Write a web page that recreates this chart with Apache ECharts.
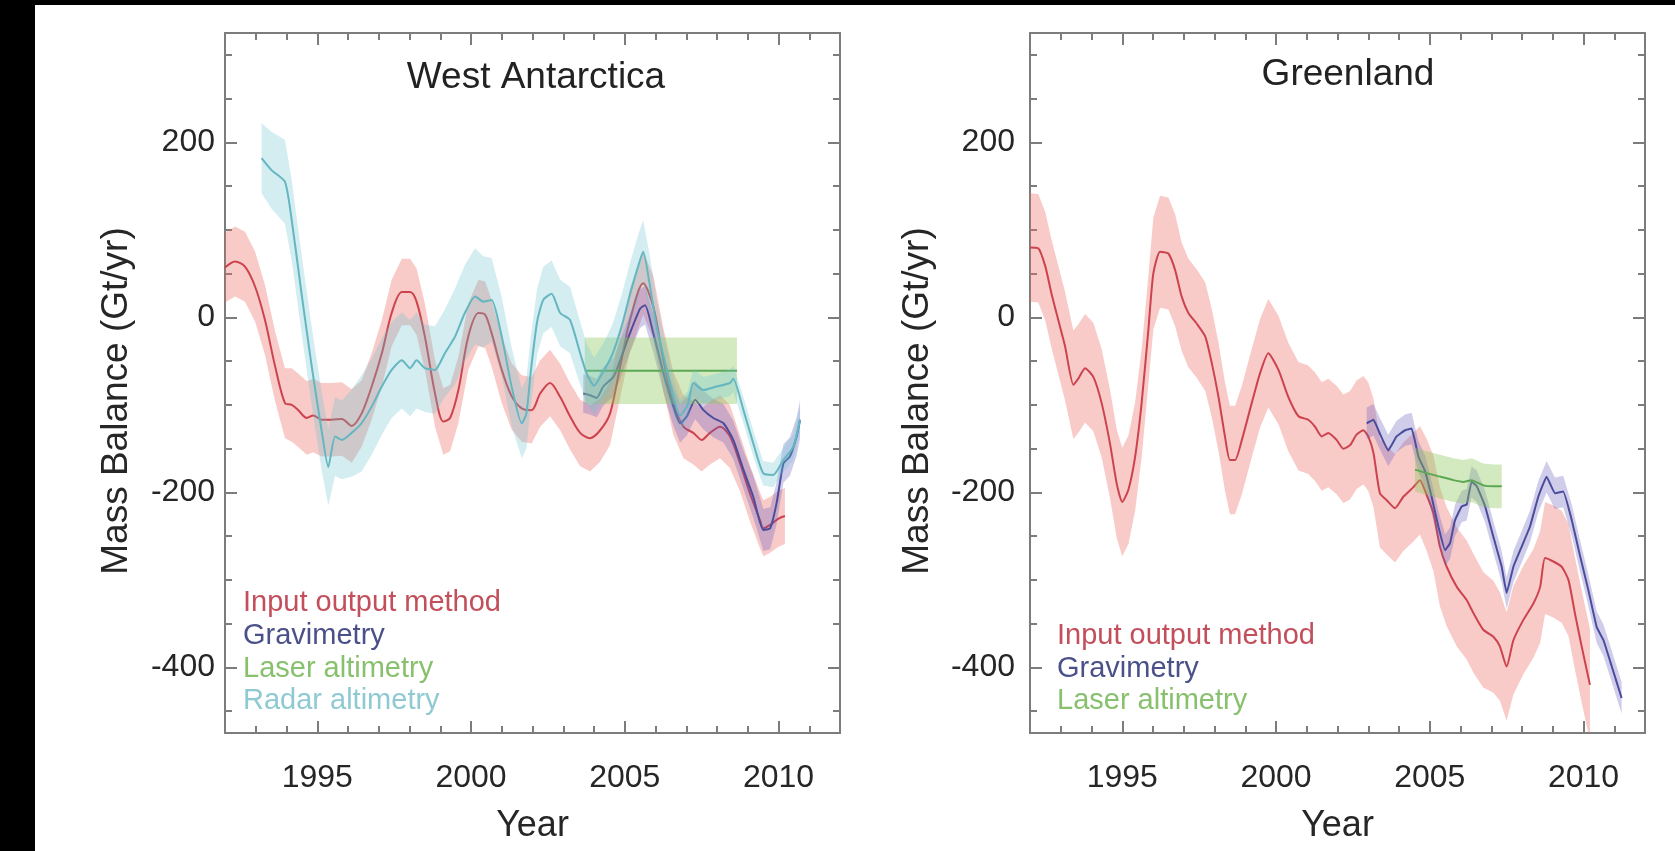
<!DOCTYPE html>
<html>
<head>
<meta charset="utf-8">
<script src="https://cdn.jsdelivr.net/npm/echarts@6.0.0/dist/echarts.min.js"></script>
<style>
html,body{margin:0;padding:0;background:#000;width:1675px;height:851px;overflow:hidden}
#c{position:absolute;left:35px;top:5px;width:1640px;height:846px;background:#fff}
</style>
</head>
<body>
<div id="c"></div>
<script>
// ---------- tick labels ----------
const yearLabels = [1995, 2000, 2005, 2010];
const yearMinorTicks = [1993,1994,1995,1996,1997,1998,1999,2000,2001,2002,2003,2004,2005,2006,2007,2008,2009,2010,2011];
const massLabels = [-400, -200, 0, 200];
const massMinorTicks = [-450,-400,-350,-300,-250,-200,-150,-100,-50,0,50,100,150,200,250,300];

// ---------- West Antarctica: [year, value, uncertainty] ----------
const waInputOutput = [
 [1992.0,57,40],[1992.33,64,40],[1992.65,58,40],[1992.98,35,40],[1993.3,-3,40],[1993.63,-56,40],[1993.95,-98,40],
 [1994.17,-100,42],[1994.38,-106,42],[1994.66,-115,42],[1994.87,-112,42],[1995.14,-117,42],[1995.47,-117,42],[1995.8,-116,42],[1996.12,-124,42],
 [1996.44,-110,38],[1996.77,-79,38],[1997.1,-41,38],[1997.42,5,38],[1997.75,29,38],[1998.02,29,38],[1998.23,18,38],[1998.5,-22,38],
 [1998.83,-87,38],[1999.1,-119,38],[1999.32,-115,38],[1999.59,-83,38],[1999.91,-22,38],[2000.24,5,38],[2000.46,3,38],[2000.67,-18,38],
 [2001.0,-60,38],[2001.32,-90,38],[2001.65,-104,38],[2001.97,-106,38],[2002.25,-87,38],[2002.57,-75,38],[2002.9,-91,38],[2003.22,-113,38],
 [2003.55,-132,38],[2003.87,-138,38],[2004.2,-129,36],[2004.52,-110,36],[2004.85,-56,36],[2005.17,-3,36],[2005.6,39,36],[2005.93,12,36],
 [2006.26,-49,36],[2006.58,-98,36],[2006.91,-125,36],[2007.23,-132,36],[2007.5,-140,36],[2007.77,-132,36],[2008.1,-125,36],[2008.42,-136,36],
 [2008.75,-167,32],[2009.07,-201,32],[2009.4,-232,32],[2009.51,-241,32],[2009.73,-237,32],[2010.0,-230,32],[2010.21,-227,32]
];
const waGravimetry = [
 [2003.65,-87,22],[2003.87,-89,22],[2004.09,-92,22],[2004.3,-79,22],[2004.63,-68,22],[2004.85,-49,22],[2005.17,-18,22],[2005.5,10,22],
 [2005.66,14,22],[2005.93,-18,22],[2006.26,-64,22],[2006.58,-102,22],[2006.8,-121,22],[2007.02,-113,22],[2007.29,-94,22],[2007.56,-106,22],
 [2007.88,-115,22],[2008.21,-121,22],[2008.53,-140,22],[2008.86,-174,22],[2009.18,-205,24],[2009.51,-243,24],[2009.73,-241,24],[2009.94,-212,24],
 [2010.16,-167,22],[2010.37,-159,22],[2010.59,-136,22],[2010.7,-117,22]
];
const waLaser = [[2003.7,-61,38],[2008.65,-61,38]];
const waRadar = [
 [1993.19,182,40],[1993.52,168,44],[1993.95,155,48],[1994.17,111,46],[1994.49,27,45],[1994.82,-56,45],[1995.14,-129,45],[1995.36,-171,44],
 [1995.58,-136,45],[1995.8,-140,45],[1996.12,-132,50],[1996.44,-121,55],[1996.77,-102,55],[1997.1,-79,55],[1997.42,-60,55],[1997.75,-49,55],
 [1998.02,-58,55],[1998.23,-49,55],[1998.5,-58,50],[1998.83,-60,50],[1999.15,-41,50],[1999.48,-22,55],[1999.8,5,55],[2000.13,24,55],
 [2000.4,18,52],[2000.67,20,48],[2001.0,-22,45],[2001.32,-79,45],[2001.65,-121,40],[2001.8,-110,40],[2001.95,-60,40],[2002.15,-5,38],
 [2002.35,20,38],[2002.62,27,38],[2002.9,5,38],[2003.22,-3,38],[2003.55,-41,36],[2003.76,-64,34],[2004.0,-78,32],[2004.3,-62,32],
 [2004.6,-42,34],[2004.9,-10,36],[2005.2,30,36],[2005.45,60,36],[2005.6,75,36],[2005.8,40,34],[2006.04,-11,30],[2006.3,-50,26],
 [2006.5,-80,22],[2006.8,-112,18],[2007.05,-100,16],[2007.23,-75,16],[2007.56,-83,15],[2007.99,-79,15],[2008.42,-75,15],[2008.53,-70,15],
 [2008.86,-106,15],[2009.18,-144,15],[2009.5,-178,14],[2009.83,-180,14],[2010.16,-163,14],[2010.48,-148,15],[2010.7,-117,15]
];

// ---------- Greenland: [year, value, uncertainty] ----------
const grInputOutput = [
 [1992.0,80,62],[1992.27,79,62],[1992.5,58,62],[1992.7,27,62],[1992.92,-3,62],[1993.14,-33,62],[1993.41,-77,62],[1993.57,-70,62],
 [1993.79,-58,62],[1994.06,-68,62],[1994.33,-98,62],[1994.6,-144,62],[1994.82,-190,62],[1995.0,-211,62],[1995.2,-197,62],[1995.42,-159,62],
 [1995.63,-98,62],[1995.85,-14,62],[1996.01,50,64],[1996.23,75,64],[1996.5,73,64],[1996.72,54,64],[1996.93,24,62],[1997.15,5,62],
 [1997.42,-7,62],[1997.7,-22,62],[1997.91,-52,62],[1998.13,-91,62],[1998.34,-136,62],[1998.5,-163,62],[1998.67,-163,62],[1998.89,-140,62],
 [1999.21,-98,62],[1999.48,-64,62],[1999.75,-41,62],[2000.08,-60,62],[2000.4,-91,62],[2000.73,-113,62],[2001.05,-117,62],[2001.27,-125,62],
 [2001.49,-136,62],[2001.7,-132,62],[2001.97,-140,62],[2002.19,-150,62],[2002.41,-146,62],[2002.62,-134,62],[2002.84,-129,62],[2003.0,-136,62],
 [2003.17,-155,62],[2003.38,-201,62],[2003.6,-209,62],[2003.87,-218,62],[2004.14,-205,62],[2004.47,-194,62],[2004.68,-186,62],[2004.9,-203,64],
 [2005.12,-224,66],[2005.33,-262,68],[2005.55,-285,68],[2005.88,-308,68],[2006.2,-323,68],[2006.42,-338,68],[2006.74,-357,66],[2007.07,-365,64],
 [2007.28,-376,62],[2007.5,-399,62],[2007.72,-369,62],[2008.04,-346,62],[2008.37,-327,62],[2008.59,-308,64],[2008.75,-275,64],[2009.02,-279,64],
 [2009.29,-285,64],[2009.51,-300,64],[2009.72,-338,64],[2009.94,-376,64],[2010.21,-420,64]
];
const grGravimetry = [
 [2002.95,-121,18],[2003.17,-117,18],[2003.38,-133,18],[2003.65,-152,18],[2003.92,-136,18],[2004.2,-129,18],[2004.41,-127,18],[2004.63,-159,18],
 [2004.85,-176,18],[2005.06,-205,18],[2005.28,-239,18],[2005.5,-266,18],[2005.66,-258,18],[2005.82,-232,18],[2006.04,-216,18],[2006.2,-214,18],
 [2006.36,-188,18],[2006.53,-193,18],[2006.8,-216,18],[2007.07,-251,18],[2007.34,-285,18],[2007.5,-315,18],[2007.72,-285,18],[2007.99,-262,18],
 [2008.26,-239,18],[2008.53,-205,18],[2008.8,-182,18],[2009.07,-201,18],[2009.34,-199,18],[2009.62,-232,18],[2009.89,-273,18],[2010.16,-312,18],
 [2010.43,-354,18],[2010.65,-369,18],[2010.92,-399,18],[2011.24,-435,18]
];
const grLaser = [
 [2004.52,-174,25],[2004.9,-178,25],[2005.33,-182,25],[2005.77,-186,25],[2006.09,-188,25],[2006.36,-186,25],[2006.74,-192,25],[2007.07,-193,25],[2007.34,-193,25]
];

// ---------- styles ----------
const FONT = '"Liberation Sans", Arial, Helvetica, sans-serif';
const AX = '#7c7c7c';
const TXT = '#262626';
const C = {
  io:    {line: '#cc434e', band: 'rgba(236,110,105,0.36)', text: '#c24f5b'},
  grav:  {line: '#4b4d9c', band: 'rgba(100,90,190,0.30)',  text: '#4a5088'},
  laser: {line: '#5aa853', band: 'rgba(140,200,90,0.38)',  text: '#88c16e'},
  radar: {line: '#64b6c0', band: 'rgba(110,195,210,0.30)', text: '#8fcad2'}
};
const NAMES = {io: 'Input output method', grav: 'Gravimetry', laser: 'Laser altimetry', radar: 'Radar altimetry'};

function band(data, fill, ai, z) {
  return {
    type: 'custom', silent: true, clip: true, z: z, animation: false,
    xAxisIndex: ai * 4, yAxisIndex: ai * 4,
    data: data.map(d => [d[0], d[1] - d[2], d[1] + d[2]]),
    encode: {x: 0, y: [1, 2]},
    renderItem: function (params, api) {
      if (params.dataIndex !== 0) return null;
      const up = data.map(d => api.coord([d[0], d[1] + d[2]]));
      const lo = data.map(d => api.coord([d[0], d[1] - d[2]])).reverse();
      return {type: 'polygon', shape: {points: up.concat(lo)}, style: {fill: fill}};
    }
  };
}
function line(key, data, ai, z, smooth) {
  return {
    type: 'line', name: NAMES[key], xAxisIndex: ai * 4, yAxisIndex: ai * 4, z: z,
    data: data.map(d => [d[0], d[1]]), showSymbol: false, symbol: 'none',
    smooth: smooth, silent: true, animation: false,
    lineStyle: {color: C[key].line, width: 2}, itemStyle: {color: C[key].line},
    emphasis: {disabled: true}
  };
}
function xAxes(gMain, gMinor) {
  const base = {type: 'value', min: 1992, max: 2012, splitLine: {show: false}};
  const tickStyle = {color: AX, width: 2};
  const lineOn = {show: true, onZero: false, lineStyle: {color: AX, width: 2}};
  const lineOff = {show: false, onZero: false};
  return [
    Object.assign({}, base, {gridIndex: gMain, position: 'bottom',
      name: 'Year', nameLocation: 'middle', nameGap: 75,
      nameTextStyle: {fontSize: 36, color: TXT, fontFamily: FONT},
      axisLine: lineOn,
      axisTick: {show: true, inside: true, length: 12, customValues: yearLabels, lineStyle: tickStyle},
      axisLabel: {show: true, customValues: yearLabels, margin: 29, fontSize: 32, color: TXT, fontFamily: FONT, formatter: v => String(v)}}),
    Object.assign({}, base, {gridIndex: gMain, position: 'top',
      axisLine: lineOn,
      axisTick: {show: true, inside: true, length: 12, customValues: yearLabels, lineStyle: tickStyle},
      axisLabel: {show: false}}),
    Object.assign({}, base, {gridIndex: gMinor, position: 'bottom',
      axisLine: lineOff,
      axisTick: {show: true, inside: true, length: 7, customValues: yearMinorTicks, lineStyle: tickStyle},
      axisLabel: {show: false}}),
    Object.assign({}, base, {gridIndex: gMinor, position: 'top',
      axisLine: lineOff,
      axisTick: {show: true, inside: true, length: 7, customValues: yearMinorTicks, lineStyle: tickStyle},
      axisLabel: {show: false}})
  ];
}
function yAxes(gMain, gMinor, nameGap, labelMargin) {
  const base = {type: 'value', min: -475, max: 325, splitLine: {show: false}};
  const tickStyle = {color: AX, width: 2};
  const lineOn = {show: true, onZero: false, lineStyle: {color: AX, width: 2}};
  const lineOff = {show: false, onZero: false};
  return [
    Object.assign({}, base, {gridIndex: gMain, position: 'left',
      name: 'Mass Balance (Gt/yr)', nameLocation: 'middle', nameGap: nameGap, nameRotate: 90,
      nameTextStyle: {fontSize: 37, color: TXT, fontFamily: FONT, padding: [0, 36, 0, 0]},
      axisLine: lineOn,
      axisTick: {show: true, inside: true, length: 12, customValues: massLabels, lineStyle: tickStyle},
      axisLabel: {show: true, customValues: massLabels, margin: labelMargin, fontSize: 32, color: TXT, fontFamily: FONT, formatter: v => String(v)}}),
    Object.assign({}, base, {gridIndex: gMain, position: 'right',
      axisLine: lineOn,
      axisTick: {show: true, inside: true, length: 12, customValues: massLabels, lineStyle: tickStyle},
      axisLabel: {show: false}}),
    Object.assign({}, base, {gridIndex: gMinor, position: 'left',
      axisLine: lineOff,
      axisTick: {show: true, inside: true, length: 7, customValues: massMinorTicks, lineStyle: tickStyle},
      axisLabel: {show: false}}),
    Object.assign({}, base, {gridIndex: gMinor, position: 'right',
      axisLine: lineOff,
      axisTick: {show: true, inside: true, length: 7, customValues: massMinorTicks, lineStyle: tickStyle},
      axisLabel: {show: false}})
  ];
}
function legendItem(key) {
  return {name: NAMES[key], textStyle: {color: C[key].text}};
}

const chart = echarts.init(document.getElementById('c'), null, {renderer: 'canvas'});
const G1 = {left: 190, top: 28, width: 615, height: 700};
const G2 = {left: 995, top: 28, width: 615, height: 700};

chart.setOption({
  animation: false,
  backgroundColor: '#fff',
  textStyle: {fontFamily: FONT},
  grid: [Object.assign({}, G1), Object.assign({}, G1), Object.assign({}, G2), Object.assign({}, G2)],
  xAxis: xAxes(0, 1).concat(xAxes(2, 3)),
  yAxis: yAxes(0, 1, 90, 10).concat(yAxes(2, 3, 94, 15)),
  legend: [
    {orient: 'vertical', left: 203, top: 582, padding: 0, itemGap: 0, itemWidth: 0, itemHeight: 0,
     selectedMode: false, icon: 'rect',
     textStyle: {fontSize: 29, lineHeight: 32.7, fontFamily: FONT},
     data: [legendItem('io'), legendItem('grav'), legendItem('laser'), legendItem('radar')]},
    {orient: 'vertical', left: 1017, top: 615, padding: 0, itemGap: 0, itemWidth: 0, itemHeight: 0,
     selectedMode: false, icon: 'rect',
     textStyle: {fontSize: 29, lineHeight: 32.5, fontFamily: FONT},
     data: [legendItem('io'), legendItem('grav'), legendItem('laser')]}
  ],
  graphic: [
    {type: 'text', x: 501, y: 73, silent: true,
     style: {text: 'West Antarctica', fontSize: 37, fontFamily: FONT, fill: '#222', align: 'center', verticalAlign: 'middle'}},
    {type: 'text', x: 1313, y: 70, silent: true,
     style: {text: 'Greenland', fontSize: 37, fontFamily: FONT, fill: '#222', align: 'center', verticalAlign: 'middle'}}
  ],
  series: [
    band(waInputOutput, C.io.band, 0, 1),   line('io', waInputOutput, 0, 2, 0.3),
    band(waGravimetry, C.grav.band, 0, 3),  line('grav', waGravimetry, 0, 4, 0.2),
    band(waLaser, C.laser.band, 0, 5),      line('laser', waLaser, 0, 6, false),
    band(waRadar, C.radar.band, 0, 7),      line('radar', waRadar, 0, 8, 0.2),
    band(grInputOutput, C.io.band, 1, 1),   line('io', grInputOutput, 1, 2, 0.2),
    band(grGravimetry, C.grav.band, 1, 3),  line('grav', grGravimetry, 1, 4, 0.1),
    band(grLaser, C.laser.band, 1, 5),      line('laser', grLaser, 1, 6, 0.1)
  ]
});
</script>
</body>
</html>
